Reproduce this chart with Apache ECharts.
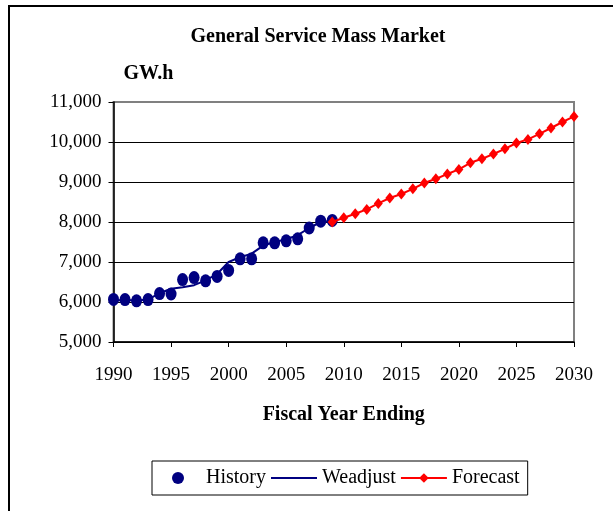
<!DOCTYPE html>
<html>
<head>
<meta charset="utf-8">
<script src="https://cdn.jsdelivr.net/npm/echarts@6/dist/echarts.min.js"></script>
<style>
html, body {
  margin: 0;
  padding: 0;
  background: #fff;
}
#chart {
  height: 511px;
  width: 613px;
}
</style>
</head>
<body>
<div id="chart"></div>
<script>
// history: fiscal years 1990-2009
const historyYears = [1990, 1991, 1992, 1993, 1994, 1995, 1996, 1997, 1998, 1999,
  2000, 2001, 2002, 2003, 2004, 2005, 2006, 2007, 2008, 2009]
const historyValues = [6065, 6060, 6030, 6060, 6210, 6200, 6560, 6610, 6530, 6640,
  6790, 7080, 7080, 7480, 7480, 7530, 7580, 7850, 8020, 8040]
const weadjustValues = [6040, 6050, 6040, 6060, 6220, 6330, 6370, 6420, 6540, 6700,
  7000, 7120, 7210, 7410, 7500, 7570, 7670, 7850, 8000, 8030]
// forecast: 2009-2030
const forecastYears = [2009, 2010, 2011, 2012, 2013, 2014, 2015, 2016, 2017, 2018, 2019,
  2020, 2021, 2022, 2023, 2024, 2025, 2026, 2027, 2028, 2029, 2030]
const forecastValues = [8000, 8105, 8205, 8315, 8465, 8600, 8700, 8830, 8975, 9080, 9200,
  9315, 9480, 9580, 9700, 9830, 9975, 10065, 10205, 10350, 10500, 10640]
const seriesNames = ['History', 'Weadjust', 'Forecast']

const font = 'Liberation Serif, Times New Roman, serif'
const pairs = (xs, ys) => xs.map((x, i) => [x, ys[i]])

const chart = echarts.init(document.getElementById('chart'))
chart.setOption({
  animation: false,
  backgroundColor: '#fff',
  title: {
    text: 'General Service Mass Market',
    left: 313,
    top: 22,
    textAlign: 'center',
    textStyle: {
      fontFamily: font,
      fontSize: 20,
      fontWeight: 'bold',
      color: '#000'
    }
  },
  graphic: [
    {
      type: 'rect',
      shape: { x: 9, y: 6, width: 700, height: 600 },
      style: { fill: 'none', stroke: '#000', lineWidth: 2 },
      silent: true
    }
  ],
  legend: {
    left: 152,
    top: 461,
    width: 375,
    height: 34,
    padding: [7, 8, 7, 20],
    itemGap: 4,
    itemWidth: 46,
    itemHeight: 12,
    borderColor: '#000',
    borderWidth: 1,
    data: [
      { name: seriesNames[0] },
      { name: seriesNames[1], itemStyle: { opacity: 0 } },
      { name: seriesNames[2] }
    ],
    textStyle: {
      fontFamily: font,
      fontSize: 20,
      color: '#000'
    }
  },
  grid: {
    left: 113.5,
    right: 39,
    top: 102,
    bottom: 169,
    show: true,
    borderColor: '#808080',
    borderWidth: 2
  },
  xAxis: {
    type: 'value',
    min: 1990,
    max: 2030,
    interval: 5,
    name: 'Fiscal Year Ending',
    nameLocation: 'middle',
    nameGap: 63,
    nameTextStyle: {
      fontFamily: font,
      fontSize: 20,
      fontWeight: 'bold',
      color: '#000'
    },
    axisLine: { lineStyle: { color: '#000', width: 1.5 } },
    axisTick: { inside: false, length: 5, lineStyle: { color: '#000' } },
    axisLabel: {
      margin: 24,
      fontFamily: font,
      fontSize: 19,
      color: '#000',
      formatter: v => String(v)
    },
    splitLine: { show: false }
  },
  yAxis: {
    type: 'value',
    min: 5000,
    max: 11000,
    interval: 1000,
    name: 'GW.h',
    nameLocation: 'end',
    nameGap: 18,
    nameTextStyle: {
      align: 'left',
      padding: [0, 0, 0, 10],
      fontFamily: font,
      fontSize: 20,
      fontWeight: 'bold',
      color: '#000'
    },
    axisLine: { show: true, lineStyle: { color: '#000', width: 1.5 } },
    axisTick: { show: true, length: 5, lineStyle: { color: '#000' } },
    axisLabel: {
      margin: 12,
      fontFamily: font,
      fontSize: 19,
      color: '#000',
      formatter: v => v.toLocaleString('en-US')
    },
    splitLine: {
      lineStyle: {
        color: ['#000', '#000', '#000', '#000', '#000', '#000', '#808080'],
        width: 1
      }
    }
  },
  series: [
    {
      name: 'History',
      type: 'scatter',
      data: pairs(historyYears, historyValues),
      symbol: 'circle',
      symbolSize: [11, 13],
      itemStyle: { color: '#000080', opacity: 1 },
      z: 3
    },
    {
      name: 'Weadjust',
      type: 'line',
      data: pairs(historyYears, weadjustValues),
      symbol: 'none',
      lineStyle: { color: '#000080', width: 2 },
      itemStyle: { color: '#000080' },
      z: 2
    },
    {
      name: 'Forecast',
      type: 'line',
      data: pairs(forecastYears, forecastValues),
      symbol: 'diamond',
      symbolSize: [9, 11],
      showAllSymbol: true,
      lineStyle: { color: '#ff0000', width: 2 },
      itemStyle: { color: '#ff0000' },
      z: 4
    }
  ]
})
</script>
</body>
</html>
